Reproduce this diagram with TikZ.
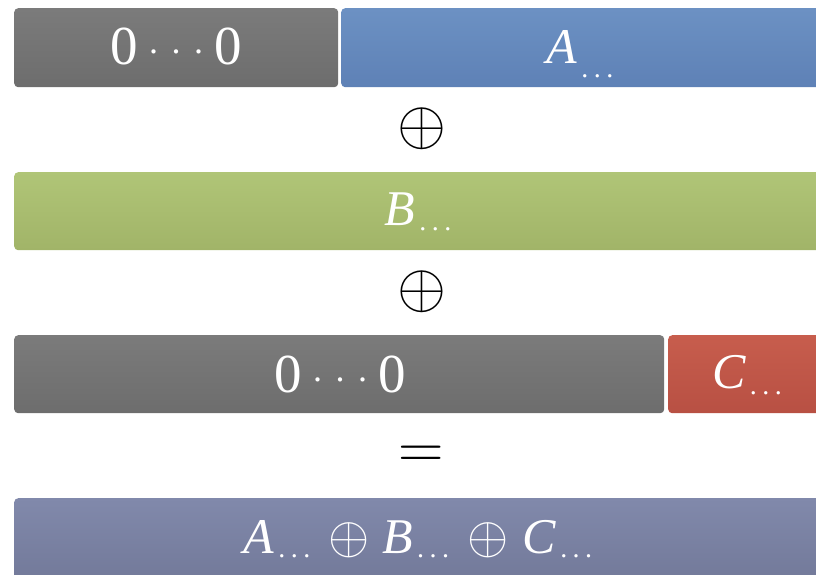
\RequirePackage{fix-cm}
\documentclass[tikz,border=0pt]{standalone}
\usepackage{fontspec}
\setmainfont{Liberation Serif}
% subscript ellipsis, lowered by the optional argument
\newcommand{\subdots}[1][-5pt]{\kern4pt\raisebox{#1}{\fontsize{28}{28}\selectfont.\kern5.5pt.\kern5.5pt.}}
\newcommand{\zdot}{\raisebox{11pt}{\fontsize{36}{36}\selectfont.}}
\newcommand{\zeros}{0\kern11pt\zdot\kern13.5pt\zdot\kern13.5pt\zdot\kern11pt0}
\newcommand{\bigxor}{{\fontsize{53}{53}\selectfont$\oplus$}}
\definecolor{greyT}{HTML}{7B7B7B}\definecolor{greyB}{HTML}{6D6D6D}
\definecolor{blueT}{HTML}{6C91C3}\definecolor{blueB}{HTML}{5E81B6}
\definecolor{greenT}{HTML}{B0C577}\definecolor{greenB}{HTML}{A1B468}
\definecolor{redT}{HTML}{C75D4D}\definecolor{redB}{HTML}{B85043}
\definecolor{violT}{HTML}{8189AB}\definecolor{violB}{HTML}{727999}
\tikzset{
  bar/.style={draw=none, rounded corners=4pt, inner sep=0pt, anchor=north west},
  lbl/.style={text=white, inner sep=0pt, anchor=base, font=\fontsize{50}{50}\selectfont},
  zlbl/.style={lbl, font=\fontsize{55}{55}\selectfont},
  op/.style={inner sep=0pt, font=\fontsize{63}{63}\selectfont}
}
\begin{document}
\begin{tikzpicture}[x=1pt, y=-1pt]
  \useasboundingbox (0,0) rectangle (816,574);
  % row 1
  \node[bar, top color=greyT, bottom color=greyB, minimum width=324pt, minimum height=79pt] (z1) at (14,8) {};
  \node[bar, top color=blueT, bottom color=blueB, minimum width=480pt, minimum height=79pt] (a1) at (341,8) {};
  \node[zlbl] (z1t) at (176,64) {\zeros};
  \node[lbl] (a1t) at (580,63) {\textit{A}\subdots[-14pt]};
  % first xor
  \node[op] (x1) at (422,129) {$\oplus$};
  % row 2
  \node[bar, top color=greenT, bottom color=greenB, minimum width=810pt, minimum height=78pt] (b1) at (14,172) {};
  \node[lbl] (b1t) at (418,225) {\textit{B}\subdots[-5pt]};
  % second xor
  \node[op] (x2) at (422,292) {$\oplus$};
  % row 3
  \node[bar, top color=greyT, bottom color=greyB, minimum width=650pt, minimum height=78pt] (z2) at (14,335) {};
  \node[bar, top color=redT, bottom color=redB, minimum width=155pt, minimum height=78pt] (c1) at (668,335) {};
  \node[zlbl] (z2t) at (340,392) {\zeros};
  \node[lbl] (c1t) at (747,388) {\textit{C}\subdots[-6pt]};
  % equals
  \node[op] (eq) at (421,457) {$=$};
  % result
  \node[bar, top color=violT, bottom color=violB, minimum width=810pt, minimum height=85pt] (r) at (14,498) {};
  \node[lbl] (rt) at (418,553) {\textit{A}\subdots[-4pt]\kern18pt\bigxor\kern13pt\textit{B}\subdots[-4pt]\kern18pt\bigxor\kern14pt\textit{C}\subdots[-4pt]};
\end{tikzpicture}
\end{document}
